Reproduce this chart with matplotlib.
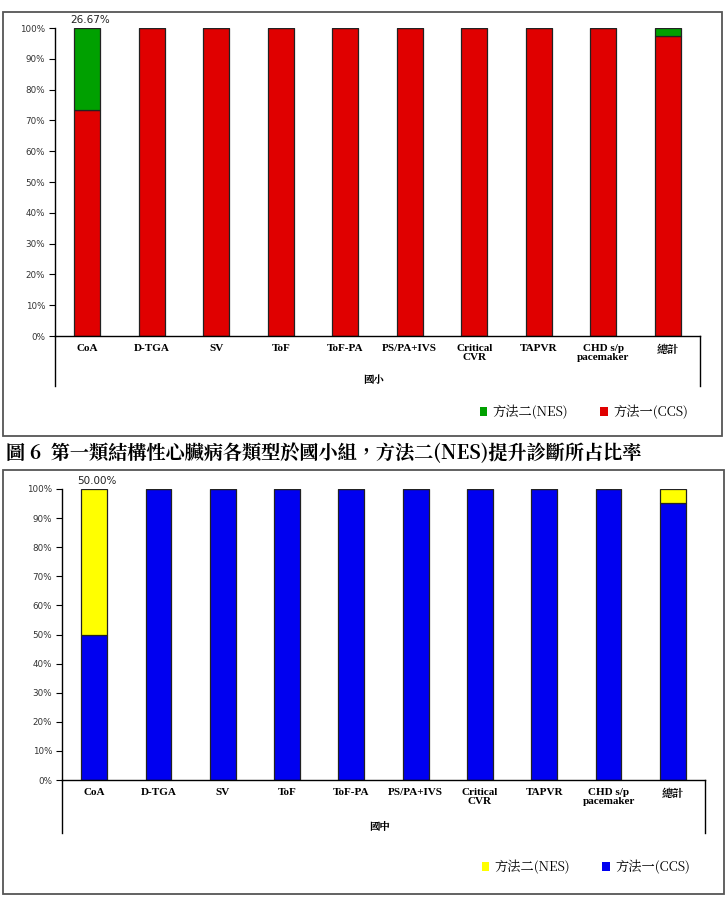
import matplotlib
matplotlib.use("Agg")
import matplotlib.pyplot as plt
from matplotlib.patches import Rectangle
from matplotlib.lines import Line2D
import numpy as np

plt.rcParams['font.family'] = ['DejaVu Sans', 'Noto Sans CJK TC']

categories = ["CoA", "D-TGA", "SV", "ToF", "ToF-PA", "PS/PA+IVS",
              "Critical\nCVR", "TAPVR", "CHD s/p\npacemaker", "總計"]
yticks = [0, 10, 20, 30, 40, 50, 60, 70, 80, 90, 100]
ytick_labels = [f"{v}%" for v in yticks]

# Panel 1: 國小
elem_ccs = [73.33, 100, 100, 100, 100, 100, 100, 100, 100, 97.4]
elem_nes = [26.67, 0, 0, 0, 0, 0, 0, 0, 0, 2.6]
# Panel 2: 國中
junior_ccs = [50.0, 100, 100, 100, 100, 100, 100, 100, 100, 95.24]
junior_nes = [50.0, 0, 0, 0, 0, 0, 0, 0, 0, 4.76]

legend_nes = "方法二(NES)"
legend_ccs = "方法一(CCS)"
caption = "圖 6  第一類結構性心臟病各類型於國小組，方法二(NES)提升診斷所占比率"

W, H = 728, 898
fig = plt.figure(figsize=(W / 100, H / 100), dpi=100)

def fx(x):
    return x / W

def fy(y):
    return 1 - y / H

serif_bold = dict(family=['Liberation Serif', 'Noto Serif CJK TC', 'Noto Sans CJK TC'], weight='bold')

def panel(box, ax_px, ext_bottom, ccs, nes, c_ccs, c_nes, group, label_txt, legend_y):
    bx0, by0, bx1, by1 = box
    fig.patches.append(Rectangle((fx(bx0), fy(by1)), fx(bx1 - bx0), (by1 - by0) / H,
                                 transform=fig.transFigure, fill=False,
                                 edgecolor='#555555', linewidth=1.3))
    x0, y0, x1, y1 = ax_px  # left, top(100%), right, bottom(0%)
    ax = fig.add_axes([fx(x0), fy(y1), fx(x1 - x0), (y1 - y0) / H])
    x = np.arange(len(categories))
    ax.bar(x, ccs, width=0.4, color=c_ccs, edgecolor='#222222', linewidth=0.9)
    ax.bar(x, nes, width=0.4, bottom=ccs, color=c_nes, edgecolor='#222222', linewidth=0.9)
    ax.set_xlim(-0.5, len(categories) - 0.5)
    ax.set_ylim(0, 100)
    ax.set_yticks(yticks)
    ax.set_yticklabels(ytick_labels, fontsize=6.3, color='#333333')
    ax.set_xticks(x)
    ax.set_xticklabels(categories, fontsize=8, **serif_bold, linespacing=1.0)
    ax.tick_params(axis='x', length=0, pad=6)
    ax.tick_params(axis='y', length=4, width=0.8, direction='out', pad=3)
    for s in ['top', 'right']:
        ax.spines[s].set_visible(False)
    ax.spines['left'].set_linewidth(1.0)
    ax.spines['bottom'].set_linewidth(1.0)
    ax.text(0.05, ccs[0] + nes[0] + 1, label_txt, ha='center', va='bottom',
            fontsize=7.5, color='#222222')
    # category axis extension lines
    fig.lines.append(Line2D([fx(x0), fx(x0)], [fy(y1), fy(ext_bottom)],
                            transform=fig.transFigure, color='black', linewidth=1.0))
    fig.lines.append(Line2D([fx(x1), fx(x1)], [fy(y1), fy(ext_bottom)],
                            transform=fig.transFigure, color='black', linewidth=1.0))
    fig.text(fx((x0 + x1) / 2 - 4), fy(ext_bottom - 6), group, ha='center', va='center',
             fontsize=7.5, fontweight='bold', family=['Noto Serif CJK TC', 'Noto Sans CJK TC'])
    # legend
    handles = [Rectangle((0, 0), 1, 1, facecolor=c_nes, edgecolor='none'),
               Rectangle((0, 0), 1, 1, facecolor=c_ccs, edgecolor='none')]
    fig.legend(handles, [legend_nes, legend_ccs], loc='center right',
               bbox_to_anchor=(fx(bx1 - 22), fy(legend_y)), ncol=2, frameon=False,
               handlelength=0.6, handleheight=0.6, handletextpad=0.4,
               columnspacing=2.4,
               prop=dict(family=['Noto Serif CJK TC', 'Noto Sans CJK TC'], size=9.5))
    return ax

panel((3, 12, 722, 436), (55, 28, 700, 336), 386, elem_ccs, elem_nes,
      '#E00000', '#00A000', "國小", "26.67%", 412)

fig.text(fx(6), fy(453), caption, ha='left', va='center', fontsize=13.8,
         fontweight='bold', family=['Noto Serif CJK TC', 'Noto Sans CJK TC'])

panel((3, 470, 724, 894), (62, 489, 705, 780), 833, junior_ccs, junior_nes,
      '#0000F0', '#FFFF00', "國中", "50.00%", 867)

fig.savefig("out.png", dpi=100)
